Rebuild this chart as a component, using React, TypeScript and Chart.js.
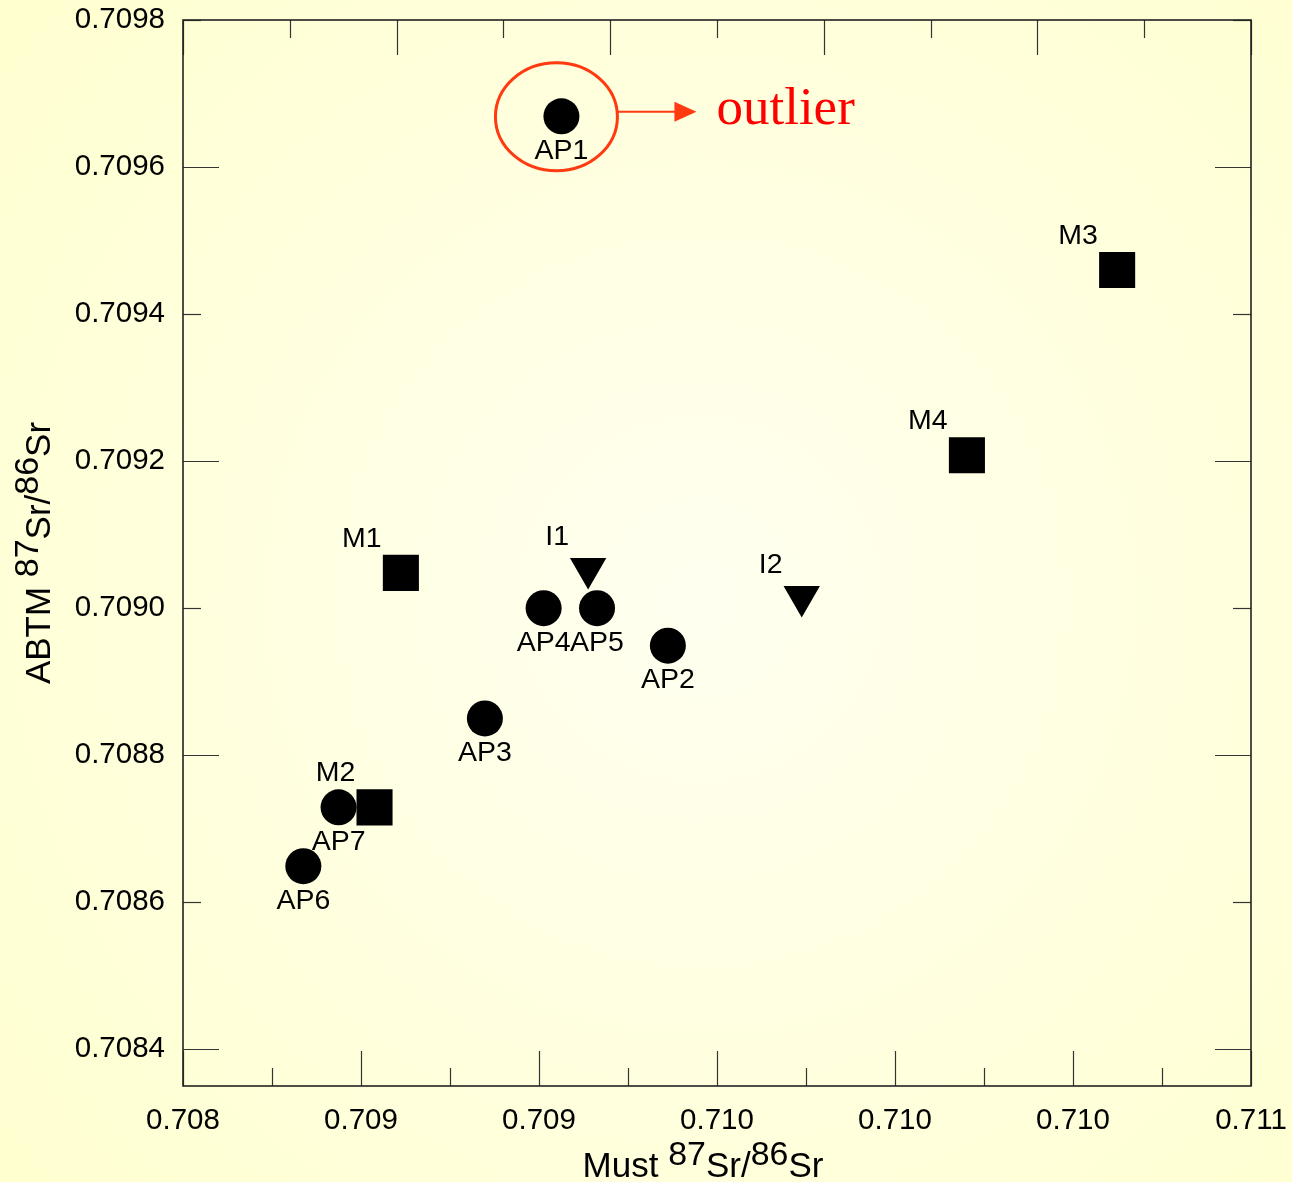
import { useEffect, useRef } from "react";
import { Chart, registerables } from "chart.js";

Chart.register(...registerables);

// ---- data ----
const apLabels = ["AP1", "AP2", "AP3", "AP4", "AP5", "AP6", "AP7"];
const apX = [0.709063, 0.709362, 0.708848, 0.709013, 0.709163, 0.708338, 0.708437];
const apY = [0.709669, 0.708949, 0.70885, 0.709, 0.709, 0.708649, 0.708729];

const mLabels = ["M1", "M2", "M3", "M4"];
const mX = [0.708612, 0.708538, 0.710624, 0.710202];
const mY = [0.709048, 0.708729, 0.70946, 0.709208];

const iLabels = ["I1", "I2"];
const iX = [0.709138, 0.709738];
const iY = [0.709054, 0.709016];

const xTickValues = [0.708, 0.7085, 0.709, 0.7095, 0.71, 0.7105, 0.711];
const xTickLabels = ["0.708", "0.709", "0.709", "0.710", "0.710", "0.710", "0.711"];
const xMinorBottom = [0.70825, 0.70875, 0.70925, 0.70975, 0.71025, 0.71075];
const xMajorTop = [0.708, 0.7086, 0.7092, 0.7098, 0.7104, 0.711];
const xMinorTop = [0.7083, 0.7089, 0.7095, 0.7101, 0.7107];

const yTickValues = [0.7084, 0.7086, 0.7088, 0.709, 0.7092, 0.7094, 0.7096, 0.7098];
const yTickLabels = ["0.7084", "0.7086", "0.7088", "0.7090", "0.7092", "0.7094", "0.7096", "0.7098"];
const yMajor = [0.7084, 0.7088, 0.7092, 0.7096];
const yMinor = [0.7086, 0.709, 0.7094, 0.7098];

const xRange = [0.708, 0.711];
const yRange = [0.70835, 0.7098];

const xTitleParts = ["Must ", "^87", "Sr/", "^86", "Sr"];
const yTitleParts = ["ABTM ", "^87", "Sr/", "^86", "Sr"];
const outlierText = "outlier";
const outlierIndex = 0;

// label placement per series (style, not data)
const placement: Record<string, [number, number]> = {
  below: [0, 35],
  upperLeft: [-39, -34],
  upperLeftSmall: [-31, -31],
};

const FONT = "'Liberation Sans', Arial, sans-serif";

function drawRich(ctx: CanvasRenderingContext2D, parts: string[], cx: number, baseline: number, size: number) {
  const supSize = size * 0.97;
  const raise = size * 0.33;
  let total = 0;
  const widths = parts.map((p) => {
    const sup = p.startsWith("^");
    ctx.font = `${sup ? supSize : size}px ${FONT}`;
    const w = ctx.measureText(sup ? p.slice(1) : p).width;
    total += w;
    return w;
  });
  let x = cx - total / 2;
  ctx.textAlign = "left";
  ctx.textBaseline = "alphabetic";
  parts.forEach((p, i) => {
    const sup = p.startsWith("^");
    ctx.font = `${sup ? supSize : size}px ${FONT}`;
    ctx.fillText(sup ? p.slice(1) : p, x, sup ? baseline - raise : baseline);
    x += widths[i];
  });
}

const zeroPad = (s: any) => {
  s.paddingLeft = 0;
  s.paddingRight = 0;
  s.paddingTop = 0;
  s.paddingBottom = 0;
};

const decorPlugin = {
  id: "decor",
  beforeDraw(chart: any) {
    const { ctx, width, height } = chart;
    ctx.save();
    const g = ctx.createRadialGradient(700, 600, 0, 700, 600, 900);
    g.addColorStop(0, "#fffff0");
    g.addColorStop(1, "#ffffd0");
    ctx.fillStyle = g;
    ctx.fillRect(0, 0, width, height);
    ctx.restore();
  },
  afterDatasetsDraw(chart: any) {
    const { ctx, chartArea: a, scales } = chart;
    const xs = scales.x;
    const ys = scales.y;
    ctx.save();
    // ticks
    ctx.strokeStyle = "#333";
    ctx.lineWidth = 1.2;
    const vt = (v: number, y0: number, len: number) => {
      const px = Math.round(xs.getPixelForValue(v)) + 0.5;
      ctx.beginPath();
      ctx.moveTo(px, y0);
      ctx.lineTo(px, y0 + len);
      ctx.stroke();
    };
    const ht = (v: number, x0: number, len: number) => {
      const py = Math.round(ys.getPixelForValue(v)) + 0.5;
      ctx.beginPath();
      ctx.moveTo(x0, py);
      ctx.lineTo(x0 + len, py);
      ctx.stroke();
    };
    xTickValues.forEach((v) => vt(v, a.bottom, -35));
    xMinorBottom.forEach((v) => vt(v, a.bottom, -18));
    xMajorTop.forEach((v) => vt(v, a.top, 35));
    xMinorTop.forEach((v) => vt(v, a.top, 18));
    yMajor.forEach((v) => { ht(v, a.left, 36); ht(v, a.right, -36); });
    yMinor.forEach((v) => { ht(v, a.left, 18); ht(v, a.right, -18); });
    // frame
    ctx.lineWidth = 1.6;
    ctx.strokeStyle = "#222";
    ctx.strokeRect(a.left, a.top, a.right - a.left, a.bottom - a.top);

    // point labels
    ctx.fillStyle = "#000";
    ctx.font = `28.5px ${FONT}`;
    ctx.textAlign = "center";
    ctx.textBaseline = "middle";
    chart.data.datasets.forEach((ds: any, di: number) => {
      const meta = chart.getDatasetMeta(di);
      const [dx, dy] = placement[ds.labelPlace];
      meta.data.forEach((el: any, i: number) => {
        ctx.fillText(ds.pointNames[i], el.x + dx, el.y + dy);
      });
    });

    // outlier annotation
    const p = chart.getDatasetMeta(0).data[outlierIndex];
    const cx = p.x - 5;
    const cy = p.y + 0.5;
    ctx.strokeStyle = "#ff3a10";
    ctx.lineWidth = 3;
    ctx.beginPath();
    ctx.ellipse(cx, cy, 61, 54, 0, 0, Math.PI * 2);
    ctx.stroke();
    const ay = p.y - 4.5;
    ctx.lineWidth = 2;
    ctx.beginPath();
    ctx.moveTo(cx + 61, ay);
    ctx.lineTo(p.x + 116, ay);
    ctx.stroke();
    ctx.fillStyle = "#ff3a10";
    ctx.beginPath();
    ctx.moveTo(p.x + 113, ay - 10);
    ctx.lineTo(p.x + 135, ay);
    ctx.lineTo(p.x + 113, ay + 10);
    ctx.closePath();
    ctx.fill();
    ctx.fillStyle = "#ff0000";
    ctx.font = "53px 'Liberation Serif', 'Times New Roman', serif";
    ctx.textAlign = "left";
    ctx.textBaseline = "alphabetic";
    ctx.fillText(outlierText, p.x + 155, p.y + 8);

    // axis titles
    ctx.fillStyle = "#000";
    drawRich(ctx, xTitleParts, (a.left + a.right) / 2 - 14, 1177, 35);
    ctx.translate(50, (a.top + a.bottom) / 2);
    ctx.rotate(-Math.PI / 2);
    drawRich(ctx, yTitleParts, 0, 0, 35);
    ctx.restore();
  },
};

export default function App() {
  const ref = useRef<HTMLCanvasElement>(null);
  useEffect(() => {
    if (!ref.current) return;
    const toPts = (xs: number[], ys: number[]) => xs.map((x, i) => ({ x, y: ys[i] }));
    const chart = new Chart(ref.current, {
      type: "scatter",
      data: {
        datasets: [
          {
            label: "AP",
            data: toPts(apX, apY),
            pointStyle: "circle",
            pointRadius: 18,
            backgroundColor: "#000",
            borderColor: "#000",
            borderWidth: 0,
            pointNames: apLabels,
            labelPlace: "below",
          } as any,
          {
            label: "M",
            data: toPts(mX, mY),
            pointStyle: "rect",
            pointRadius: 25.5,
            backgroundColor: "#000",
            borderColor: "#000",
            borderWidth: 0,
            pointNames: mLabels,
            labelPlace: "upperLeft",
          } as any,
          {
            label: "I",
            data: toPts(iX, iY),
            pointStyle: "triangle",
            rotation: 180,
            pointRadius: 21,
            backgroundColor: "#000",
            borderColor: "#000",
            borderWidth: 0,
            pointNames: iLabels,
            labelPlace: "upperLeftSmall",
          } as any,
        ],
      },
      options: {
        responsive: false,
        animation: false,
        layout: { autoPadding: false, padding: { top: 20, right: 41, left: 0, bottom: 0 } },
        plugins: { legend: { display: false }, tooltip: { enabled: false } },
        scales: {
          x: {
            type: "linear",
            min: xRange[0],
            max: xRange[1],
            grid: { display: false, drawTicks: false },
            border: { display: false },
            afterBuildTicks: (s: any) => {
              s.ticks = xTickValues.map((value) => ({ value }));
            },
            afterFit: (s: any) => {
              s.height = 96;
              zeroPad(s);
            },
            ticks: {
              autoSkip: false,
              maxRotation: 0,
              padding: 17,
              color: "#000",
              font: { family: FONT, size: 29.5 },
              callback: (_v: any, i: number) => xTickLabels[i],
            },
          },
          y: {
            type: "linear",
            min: yRange[0],
            max: yRange[1],
            grid: { display: false, drawTicks: false },
            border: { display: false },
            afterBuildTicks: (s: any) => {
              s.ticks = yTickValues.map((value) => ({ value }));
            },
            afterFit: (s: any) => {
              s.width = 183;
              zeroPad(s);
            },
            ticks: {
              autoSkip: false,
              padding: 18,
              color: "#000",
              font: { family: FONT, size: 29.5 },
              callback: (_v: any, i: number) => yTickLabels[i],
            },
          },
        },
      },
      plugins: [decorPlugin],
    } as any);
    return () => chart.destroy();
  }, []);
  return (
    <div style={{ position: "fixed", left: 0, top: 0, width: 1292, height: 1182 }}>
      <canvas ref={ref} width={1292} height={1182} />
    </div>
  );
}
